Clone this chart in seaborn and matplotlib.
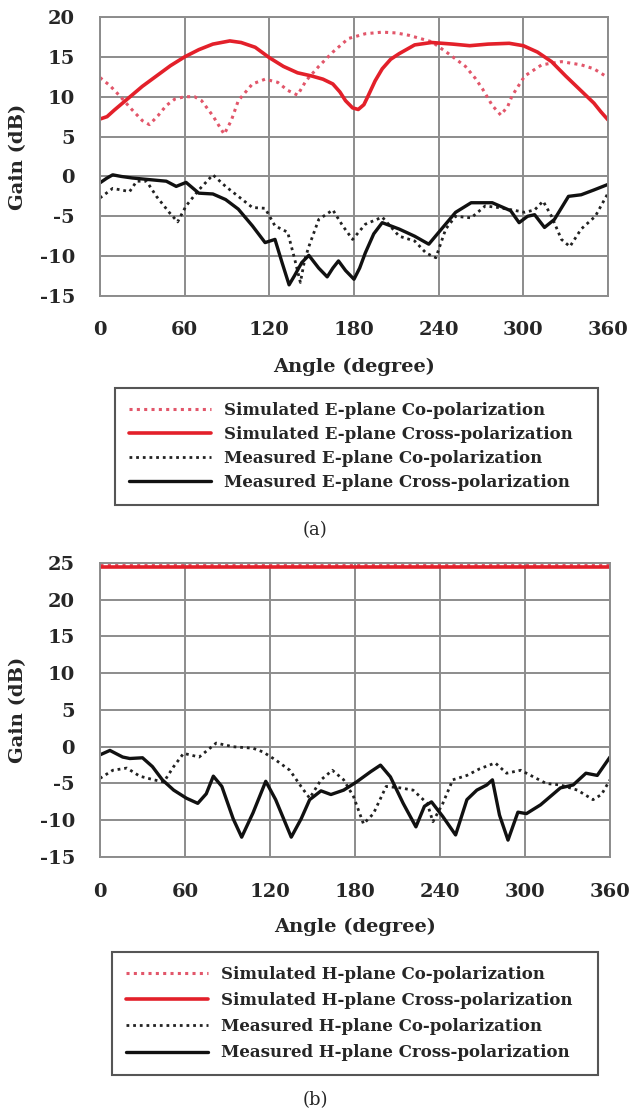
import matplotlib
matplotlib.use("Agg")
import matplotlib.pyplot as plt
import seaborn as sns

# ---------------- E-plane (a) ----------------
e_sim_co_ang = [0, 7, 14, 22, 30, 35, 41, 47, 53, 60, 67, 72, 80, 88, 93, 98, 108, 117, 126,
                133, 140, 146, 155, 165, 176, 188, 200, 210, 219, 235, 247, 259, 266, 271,
                278, 284, 289, 292, 301, 313, 327, 341, 350, 360]
e_sim_co_gain = [12.4, 11.4, 10.1, 8.5, 7.0, 6.5, 7.6, 8.9, 9.7, 10.0, 10.0, 9.5, 7.6, 5.3, 7.0,
                 9.5, 11.6, 12.2, 11.8, 10.8, 10.2, 12.0, 13.8, 15.6, 17.3, 17.9, 18.1, 18.0,
                 17.7, 16.9, 15.4, 13.8, 12.3, 11.0, 8.9, 7.7, 8.8, 10.1, 12.6, 14.0, 14.4,
                 14.0, 13.5, 12.4]

e_sim_cross_ang = [0, 5, 10, 20, 30, 40, 50, 60, 70, 80, 92, 100, 110, 120, 130, 140, 150, 158,
                   165, 170, 174, 179, 183, 187, 190, 195, 200, 206, 212, 223, 235, 250, 262,
                   275, 290, 300, 310, 320, 330, 340, 350, 355, 360]
e_sim_cross_gain = [7.2, 7.5, 8.3, 9.8, 11.3, 12.6, 13.9, 15.0, 15.9, 16.6, 17.0, 16.8, 16.2,
                    14.9, 13.8, 13.0, 12.6, 12.2, 11.6, 10.6, 9.5, 8.6, 8.4, 9.0, 10.1, 12.0,
                    13.5, 14.7, 15.4, 16.5, 16.8, 16.6, 16.4, 16.6, 16.7, 16.4, 15.6, 14.4,
                    12.6, 10.9, 9.2, 8.1, 7.1]

e_meas_co_ang = [0, 9, 21, 26, 33, 40, 49, 55, 61, 70, 80, 89, 98, 108, 117, 124, 133, 138,
                 142, 145, 148, 155, 165, 172, 179, 188, 200, 212, 223, 231, 238, 245, 252,
                 263, 273, 282, 292, 301, 308, 314, 320, 327, 333, 341, 351, 360]
e_meas_co_gain = [-2.7, -1.5, -1.9, -0.6, -0.6, -2.5, -4.5, -5.7, -3.7, -1.7, 0.2, -1.25, -2.5,
                  -3.9, -4.0, -6.2, -7.0, -10.4, -13.3, -10.5, -8.8, -5.4, -4.2, -6.2, -7.9,
                  -6.0, -5.1, -7.5, -8.1, -9.6, -10.2, -6.6, -5.0, -5.2, -3.7, -3.9, -4.2,
                  -4.5, -4.2, -3.1, -5.0, -7.9, -8.8, -6.6, -5.0, -2.1]

e_meas_cross_ang = [0, 5, 9, 15, 23, 35, 47, 54, 61, 70, 80, 89, 98, 108, 117, 124, 129, 134,
                    138, 143, 148, 155, 161, 165, 169, 174, 180, 184, 188, 194, 200, 212, 223,
                    233, 242, 252, 263, 278, 291, 297, 303, 308, 315, 322, 332, 341, 350, 360]
e_meas_cross_gain = [-0.8, -0.2, 0.2, 0.0, -0.2, -0.4, -0.6, -1.25, -0.75, -2.1, -2.2, -2.9,
                     -4.1, -6.2, -8.3, -7.9, -10.8, -13.6, -12.4, -10.8, -9.9, -11.5, -12.6,
                     -11.5, -10.6, -11.8, -12.9, -11.5, -9.6, -7.2, -5.8, -6.6, -7.5, -8.5,
                     -6.6, -4.5, -3.3, -3.3, -4.3, -5.8, -5.0, -4.8, -6.4, -5.4, -2.5, -2.3,
                     -1.7, -1.0]

# ---------------- H-plane (b) ----------------
h_sim_ang = [0, 60, 120, 180, 240, 300, 360]
h_sim_co_gain = [24.7, 24.7, 24.7, 24.7, 24.7, 24.7, 24.7]
h_sim_cross_gain = [24.4, 24.4, 24.4, 24.4, 24.4, 24.4, 24.4]

h_meas_co_ang = [0, 9, 19, 28, 38, 45, 52, 59, 70, 82, 94, 108, 115, 124, 134, 143, 148, 156,
                 164, 172, 179, 186, 193, 202, 212, 221, 231, 235, 242, 249, 259, 268, 279,
                 287, 297, 306, 315, 325, 337, 348, 354, 360]
h_meas_co_gain = [-4.3, -3.2, -2.9, -4.0, -4.5, -4.8, -2.7, -0.9, -1.4, 0.5, 0.0, -0.2, -0.7,
                  -1.8, -3.2, -5.7, -7.0, -4.5, -3.2, -4.5, -6.8, -10.5, -9.1, -5.4, -5.6,
                  -5.9, -7.7, -10.2, -7.7, -4.5, -3.9, -3.0, -2.2, -3.6, -3.2, -4.1, -5.0,
                  -5.2, -5.9, -7.2, -6.5, -4.5]

h_meas_cross_ang = [0, 7, 16, 21, 30, 37, 44, 52, 61, 69, 75, 80, 86, 94, 100, 108, 117, 124,
                    135, 142, 148, 156, 163, 172, 181, 191, 198, 205, 214, 223, 229, 234, 242,
                    251, 259, 266, 273, 277, 282, 288, 295, 301, 311, 325, 334, 343, 351, 360]
h_meas_cross_gain = [-1.1, -0.5, -1.4, -1.6, -1.5, -2.7, -4.5, -5.9, -7.0, -7.7, -6.4, -4.0,
                     -5.4, -9.8, -12.3, -9.0, -4.7, -7.2, -12.3, -9.8, -7.2, -6.0, -6.5, -5.9,
                     -4.8, -3.4, -2.5, -4.1, -7.7, -10.9, -8.1, -7.5, -9.5, -12.0, -7.2, -5.9,
                     -5.2, -4.5, -9.3, -12.7, -8.9, -9.1, -7.9, -5.6, -5.2, -3.6, -3.9, -1.4]

e_labels = ["Simulated E-plane Co-polarization", "Simulated E-plane Cross-polarization",
            "Measured E-plane Co-polarization", "Measured E-plane Cross-polarization"]
h_labels = ["Simulated H-plane Co-polarization", "Simulated H-plane Cross-polarization",
            "Measured H-plane Co-polarization", "Measured H-plane Cross-polarization"]
x_ticks = [0, 60, 120, 180, 240, 300, 360]
e_y_ticks = [-15, -10, -5, 0, 5, 10, 15, 20]
h_y_ticks = [-15, -10, -5, 0, 5, 10, 15, 20, 25]

sns.set_theme(style="whitegrid")
plt.rcParams["font.family"] = ["DejaVu Serif"]
plt.rcParams["axes.unicode_minus"] = False

W, H = 629, 1115
fig = plt.figure(figsize=(W / 100, H / 100), dpi=100)
fig.patch.set_facecolor("white")


def rect(l, t, r, b):
    return [l / W, 1 - b / H, (r - l) / W, (b - t) / H]


DOT = (0, (1, 1.4))
styles = [
    dict(color="#e2566a", linestyle=DOT, linewidth=2.2),
    dict(color="#e3202a", linestyle="-", linewidth=2.6),
    dict(color="#222222", linestyle=DOT, linewidth=2.0),
    dict(color="#111111", linestyle="-", linewidth=2.4),
]


def draw_panel(ax, series, labels, yticks, xpad, xlab_y):
    for (xs, ys), lab, st in zip(series, labels, styles):
        sns.lineplot(x=xs, y=ys, ax=ax, label=lab, **st)
    ax.set_xlim(0, 360)
    ax.set_ylim(yticks[0], yticks[-1])
    ax.set_xticks(x_ticks)
    ax.set_yticks(yticks)
    ax.set_facecolor("white")
    ax.grid(True, color="#8c8c8c", linewidth=1.4)
    for sp in ax.spines.values():
        sp.set_color("#8c8c8c")
        sp.set_linewidth(1.4)
    ax.tick_params(axis="both", length=0, labelsize=14)
    ax.tick_params(axis="x", pad=xpad)
    ax.tick_params(axis="y", pad=18)
    for t in ax.get_xticklabels() + ax.get_yticklabels():
        t.set_fontweight("bold")
    ax.set_xlabel("Angle (degree)", fontsize=14, fontweight="bold")
    ax.xaxis.label.set_va("center")
    ax.xaxis.set_label_coords(0.5, xlab_y)
    ax.set_ylabel("Gain (dB)", fontsize=14, fontweight="bold")
    ax.yaxis.label.set_va("center")
    ax.yaxis.set_label_coords(-0.161, 0.5)
    handles, labs = ax.get_legend_handles_labels()
    ax.get_legend().remove()
    return handles, labs


def add_legend(handles, labs, l, t, r, b, spacing, bpad):
    leg = fig.legend(handles, labs, loc="upper left", mode="expand",
                     bbox_to_anchor=(l / W, 1 - b / H, (r - l) / W, (b - t) / H),
                     borderaxespad=0, prop={"weight": "bold", "size": 12},
                     handlelength=4.9, handletextpad=0.8, borderpad=bpad,
                     labelspacing=spacing, fancybox=False, framealpha=1,
                     edgecolor="#555555")
    leg.get_frame().set_linewidth(1.5)
    return leg


ax_e = fig.add_axes(rect(100, 17, 608, 296))
hE, lE = draw_panel(ax_e,
                    [(e_sim_co_ang, e_sim_co_gain), (e_sim_cross_ang, e_sim_cross_gain),
                     (e_meas_co_ang, e_meas_co_gain), (e_meas_cross_ang, e_meas_cross_gain)],
                    e_labels, e_y_ticks, 18, -0.254)

ax_h = fig.add_axes(rect(100, 563, 610, 857))
hH, lH = draw_panel(ax_h,
                    [(h_sim_ang, h_sim_co_gain), (h_sim_ang, h_sim_cross_gain),
                     (h_meas_co_ang, h_meas_co_gain), (h_meas_cross_ang, h_meas_cross_gain)],
                    h_labels, h_y_ticks, 19, -0.239)

add_legend(hE, lE, 115, 388, 598, 503, 0.42, 0.85)
add_legend(hH, lH, 112, 952, 598, 1075, 0.55, 0.83)

fig.text(315 / W, 1 - 530 / H, "(a)", ha="center", va="center", fontsize=13)
fig.text(315 / W, 1 - 1100 / H, "(b)", ha="center", va="center", fontsize=13)

fig.savefig("out.png", dpi=100, facecolor="white")
